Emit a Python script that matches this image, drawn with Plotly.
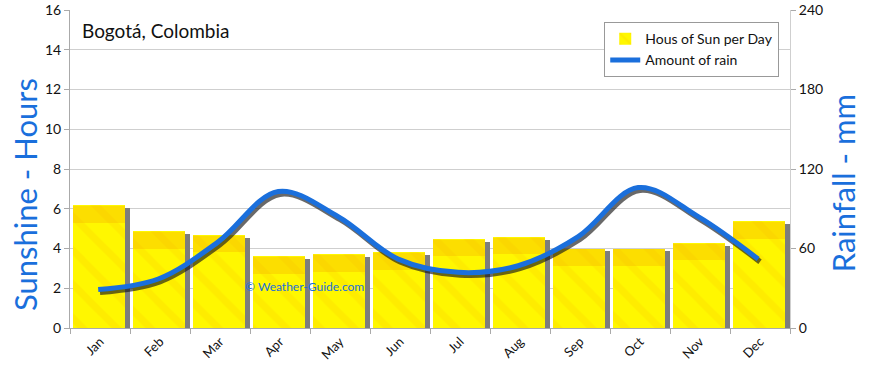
import plotly.graph_objects as go

months = ["Jan", "Feb", "Mar", "Apr", "May", "Jun", "Jul", "Aug", "Sep", "Oct", "Nov", "Dec"]
sun_hours = [6.2, 4.9, 4.7, 3.6, 3.7, 3.8, 4.5, 4.6, 4.0, 4.0, 4.3, 5.4]
rain_mm = [29, 37, 65, 103, 84, 52, 42, 47, 69, 106, 84, 52]

sun_ticks = list(range(0, 17, 2))
rain_ticks = list(range(0, 241, 60))

FONT = "Lato"
BLUE = "#1a6fdc"
idx = list(range(len(months)))

fig = go.Figure()

# bar shadow (gray strip to the right)
fig.add_trace(go.Bar(
    x=months, y=[v - 0.15 for v in sun_hours], width=0.09, offset=0.41,
    marker=dict(color="#7d7d7d", line=dict(width=0)), showlegend=False, hoverinfo="skip"))

# main sunshine bars
fig.add_trace(go.Bar(
    x=months, y=sun_hours, width=0.87, offset=-0.45, name="Hous of Sun per Day",
    marker=dict(color="#fff700", line=dict(width=0),
                pattern=dict(shape="\\", fgcolor="#f5b400", fgopacity=0.16, size=24, solidity=0.3)),
))

# orange band near top of bars
fig.add_trace(go.Bar(
    x=months, y=[0.85] * len(months), base=[v - 0.9 for v in sun_hours], width=0.87, offset=-0.45,
    marker=dict(color="rgba(245,165,0,0.3)", line=dict(width=0)), showlegend=False, hoverinfo="skip"))

# rain line shadow
fig.add_trace(go.Scatter(
    x=idx, y=[v - 2.0 for v in rain_mm], xaxis="x2", yaxis="y2",
    mode="lines", line=dict(color="rgba(25,25,25,0.65)", width=5.5, shape="spline", smoothing=1.0),
    showlegend=False, hoverinfo="skip"))

# rain line
fig.add_trace(go.Scatter(
    x=[i - 0.03 for i in idx], y=rain_mm, xaxis="x2", yaxis="y2", name="Amount of rain",
    mode="lines", line=dict(color=BLUE, width=5, shape="spline", smoothing=1.0)))

fig.update_layout(
    width=870, height=368,
    margin=dict(l=70, r=80, t=10, b=40, autoexpand=False),
    paper_bgcolor="white", plot_bgcolor="white",
    barmode="overlay", bargap=0,
    font=dict(family=FONT, size=14, color="#111"),
    xaxis=dict(type="category", tickangle=-45, tickson="boundaries", ticks="outside", ticklen=5,
               tickcolor="#aaa", showline=True, linecolor="#aaa", linewidth=1, showgrid=False,
               tickfont=dict(size=13), range=[-0.5, 11.5], automargin=False),
    xaxis2=dict(overlaying="x", range=[-0.5, 11.5], visible=False),
    yaxis=dict(range=[0, 16], tickvals=sun_ticks, ticks="outside", ticklen=5, tickcolor="#aaa",
               showline=True, linecolor="#aaa", showgrid=True, gridcolor="#cfcfcf", gridwidth=1,
               zeroline=False, tickfont=dict(size=14), automargin=False),
    yaxis2=dict(range=[0, 240], tickvals=rain_ticks, overlaying="y", side="right", anchor="x",
                ticks="outside", ticklen=5, tickcolor="#aaa", showline=True, linecolor="#cfcfcf",
                showgrid=False, zeroline=False, tickfont=dict(size=14), automargin=False),
    legend=dict(x=0.742, y=0.962, xanchor="left", yanchor="top", bgcolor="white",
                bordercolor="#999", borderwidth=1, font=dict(size=14, family=FONT),
                traceorder="normal"),
    annotations=[
        dict(text="Bogotá, Colombia", xref="paper", yref="paper", x=0.014, y=0.937,
             xanchor="left", yanchor="middle", showarrow=False, font=dict(size=19, color="#111")),
        dict(text="© Weather-Guide.com", xref="paper", yref="paper", x=0.326, y=0.129,
             xanchor="center", yanchor="middle", showarrow=False, font=dict(size=12, color=BLUE)),
        dict(text="Sunshine - Hours", xref="paper", yref="paper", x=-0.0625, y=0.418,
             xanchor="center", yanchor="middle", textangle=-90, showarrow=False,
             font=dict(size=31, color=BLUE)),
        dict(text="Rainfall - mm", xref="paper", yref="paper", x=1.074, y=0.456,
             xanchor="center", yanchor="middle", textangle=-90, showarrow=False,
             font=dict(size=31, color=BLUE)),
    ],
)

fig.write_html("out.html", config={"displayModeBar": False},
               post_script="document.body.style.margin='0';")
